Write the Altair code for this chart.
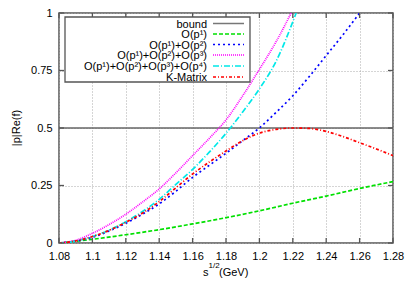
import altair as alt
import pandas as pd

# ---- data ----
green_x = [1.08, 1.10, 1.12, 1.14, 1.16, 1.18, 1.20, 1.22, 1.24, 1.26, 1.28]
green_y = [0.0, 0.016, 0.036, 0.058, 0.083, 0.11, 0.14, 0.173, 0.204, 0.237, 0.267]

blue_x = [1.08, 1.09, 1.10, 1.11, 1.12, 1.13, 1.14, 1.15, 1.16, 1.17, 1.18, 1.19, 1.20,
          1.21, 1.22, 1.23, 1.24, 1.25, 1.26]
blue_y = [0.0, 0.008, 0.025, 0.052, 0.086, 0.125, 0.17, 0.225, 0.285, 0.338, 0.39, 0.445,
          0.5, 0.568, 0.64, 0.725, 0.815, 0.905, 1.0]

mag_x = [1.08, 1.09, 1.10, 1.11, 1.12, 1.13, 1.14, 1.15, 1.16, 1.17, 1.18, 1.19, 1.20,
         1.21, 1.219]
mag_y = [0.0, 0.012, 0.042, 0.08, 0.125, 0.178, 0.235, 0.305, 0.38, 0.455, 0.535, 0.64,
         0.755, 0.875, 1.0]

cyan_x = [1.08, 1.09, 1.10, 1.11, 1.12, 1.13, 1.14, 1.15, 1.16, 1.17, 1.18, 1.19, 1.20,
          1.21, 1.222]
cyan_y = [0.0, 0.008, 0.028, 0.056, 0.092, 0.137, 0.19, 0.255, 0.32, 0.395, 0.477, 0.57,
          0.67, 0.79, 1.0]

red_x = [1.08, 1.09, 1.10, 1.11, 1.12, 1.13, 1.14, 1.15, 1.16, 1.17, 1.18, 1.19, 1.20,
         1.21, 1.22, 1.23, 1.24, 1.25, 1.26, 1.27, 1.28]
red_y = [0.0, 0.009, 0.028, 0.055, 0.09, 0.13, 0.18, 0.24, 0.3, 0.352, 0.4, 0.445, 0.478,
         0.494, 0.5, 0.498, 0.485, 0.463, 0.436, 0.409, 0.38]

bound_value = 0.5

series_names = ["O(p¹)", "O(p¹)+O(p²)", "O(p¹)+O(p²)+O(p³)",
                "O(p¹)+O(p²)+O(p³)+O(p⁴)", "K-Matrix"]
series_colors = ["#00e000", "#0000ff", "#ff00ff", "#00e8e8", "#ff0000"]
series_dash = [[4, 2], [2, 3], [1, 1], [6, 2, 1, 2], [3, 2, 1, 2]]

legend_labels = ["bound"] + series_names
legend_colors = ["#777777"] + series_colors
legend_dash = [[1, 0]] + series_dash

x_ticks = [1.08, 1.10, 1.12, 1.14, 1.16, 1.18, 1.20, 1.22, 1.24, 1.26, 1.28]
y_ticks = [0, 0.25, 0.5, 0.75, 1]

# ---- build tables ----
rows = []
for name, xs, ys in zip(series_names,
                        [green_x, blue_x, mag_x, cyan_x, red_x],
                        [green_y, blue_y, mag_y, cyan_y, red_y]):
    for xv, yv in zip(xs, ys):
        rows.append({"series": name, "x": xv, "y": yv})
df = pd.DataFrame(rows)

W, H = 334, 230
FONT = "Liberation Sans"

xscale = alt.Scale(domain=[1.08, 1.28], nice=False, zero=False)
yscale = alt.Scale(domain=[0, 1], nice=False)

xaxis = alt.Axis(values=x_ticks, labelExpr="format(datum.value, '.3~g')", title=None,
                 labelOverlap=False)
yaxis = alt.Axis(values=y_ticks, labelExpr="format(datum.value, '~g')", title=None,
                 labelOverlap=False)


def X(field="x"):
    return alt.X(f"{field}:Q", scale=xscale, axis=xaxis)


def Y(field="y"):
    return alt.Y(f"{field}:Q", scale=yscale, axis=yaxis)


bound = alt.Chart(pd.DataFrame({"y": [bound_value]})).mark_rule(
    color="#666666", strokeWidth=1.3).encode(y=Y())

lines = alt.Chart(df).mark_line(strokeWidth=1.7, clip=True, interpolate="monotone").encode(
    x=X(),
    y=Y(),
    color=alt.Color("series:N", scale=alt.Scale(domain=series_names, range=series_colors),
                    legend=None),
    strokeDash=alt.StrokeDash("series:N",
                              scale=alt.Scale(domain=series_names, range=series_dash),
                              legend=None),
    detail="series:N",
)

# inward tick marks on all four sides
xt = pd.DataFrame({"x": x_ticks})
yt = pd.DataFrame({"y": y_ticks})
tick_bottom = alt.Chart(xt).mark_rule(color="#555", strokeWidth=1.3).encode(
    x=X(), y=alt.value(H), y2=alt.value(H - 5))
tick_top = alt.Chart(xt).mark_rule(color="#555", strokeWidth=1.3).encode(
    x=X(), y=alt.value(0), y2=alt.value(5))
tick_left = alt.Chart(yt).mark_rule(color="#555", strokeWidth=1.3).encode(
    y=Y(), x=alt.value(0), x2=alt.value(5))
tick_right = alt.Chart(yt).mark_rule(color="#555", strokeWidth=1.3).encode(
    y=Y(), x=alt.value(W), x2=alt.value(W - 5))

# legend box
leg_box = alt.Chart(pd.DataFrame({"a": [0]})).mark_rect(
    fill="white", stroke="#555555", strokeWidth=1.3).encode(
    x=alt.value(6), x2=alt.value(191), y=alt.value(4), y2=alt.value(69))

row_y = [10.5, 21, 31.5, 42, 53, 64]
leg_layers = []
for lab, col, dash, ry in zip(legend_labels, legend_colors, legend_dash, row_y):
    d = pd.DataFrame({"label": [lab]})
    leg_layers.append(alt.Chart(d).mark_text(
        align="right", baseline="middle", fontSize=11, font=FONT, color="#000").encode(
        text="label:N", x=alt.value(148), y=alt.value(ry + 1)))
    leg_layers.append(alt.Chart(d).mark_rule(
        color=col, strokeDash=dash, strokeWidth=1.7 if lab != "bound" else 1.3).encode(
        x=alt.value(154), x2=alt.value(185), y=alt.value(ry)))

# axis titles
one = pd.DataFrame({"a": [0]})
xt1 = alt.Chart(one).mark_text(align="left", baseline="alphabetic", fontSize=11,
                               font=FONT, color="#000", text="s").encode(
    x=alt.value(144), y=alt.value(263))
xt2 = alt.Chart(one).mark_text(align="left", baseline="alphabetic", fontSize=8,
                               font=FONT, color="#000", text="1/2").encode(
    x=alt.value(149.5), y=alt.value(255))
xt3 = alt.Chart(one).mark_text(align="left", baseline="alphabetic", fontSize=11,
                               font=FONT, color="#000", text="(GeV)").encode(
    x=alt.value(160), y=alt.value(263))
ytl = alt.Chart(one).mark_text(align="center", baseline="middle", fontSize=11,
                               font=FONT, color="#000", angle=270, text="|p|Re(f)").encode(
    x=alt.value(-42), y=alt.value(115))

chart = alt.layer(
    bound, lines, tick_bottom, tick_top, tick_left, tick_right,
    leg_box, *leg_layers, xt1, xt2, xt3, ytl
).properties(
    width=W, height=H,
    autosize=alt.AutoSizeParams(type="none"),
    padding={"left": 51, "top": 5, "right": 12, "bottom": 38},
    background="white",
).configure_view(
    stroke="#555555", strokeWidth=1.5
).configure_axis(
    ticks=False, domain=False, labelPadding=7, labelFontSize=11, labelFont=FONT,
    labelColor="#000", grid=True, gridDash=[1, 2], gridColor="#aaaaaa",
    labelFlush=False, labelOverlap=False,
)

chart.save("out.html", embed_options={"renderer": "svg", "actions": False})
